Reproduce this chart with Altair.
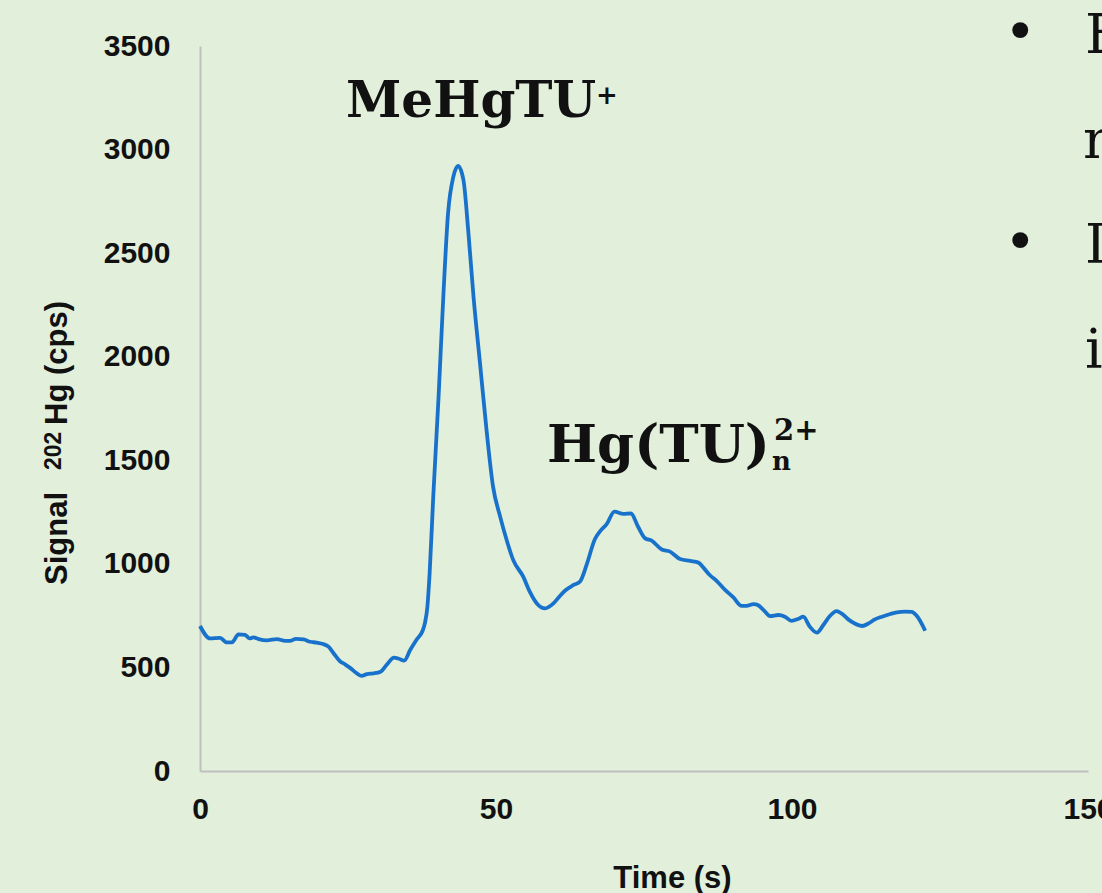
import altair as alt
import pandas as pd

# ---- data ----
time_s = [0.0, 1.7, 3.4, 4.5, 5.4, 6.5, 7.6, 8.4, 9.0, 9.9, 11.3, 13.0, 14.4, 15.2, 16.2,
          17.5, 18.6, 19.7, 20.8, 21.7, 22.5, 23.6, 24.5, 25.3, 26.5, 27.3, 28.2, 29.3,
          30.5, 31.5, 32.8, 33.5, 34.5, 35.5, 36.6, 37.6, 38.0, 38.4, 38.8, 39.4,
          40.3, 41.1, 41.9, 42.8, 43.6, 44.5, 45.3, 46.2, 47.3, 48.4, 49.5, 50.7, 51.8,
          52.9, 54.6, 55.7, 56.9, 58.3, 59.7, 60.8, 61.9, 63.1, 64.2, 65.3, 66.7, 67.6,
          68.7, 70.0, 71.5, 72.8, 74.0, 75.2, 76.3, 78.0, 79.4, 81.1, 82.8, 84.2, 85.0,
          86.1, 87.3, 88.7, 90.1, 91.5, 92.3, 93.5, 94.3, 95.2, 96.3, 97.7, 98.8, 99.9,
          101.1, 101.9, 103.0, 104.2, 105.3, 106.4, 107.5, 108.4, 109.5, 110.6, 111.9,
          112.9, 114.0, 115.2, 116.6, 117.7, 119.1, 120.2, 121.1, 122.5]
signal_cps = [700, 640, 643, 621, 621, 660, 657, 640, 645, 637, 631, 637, 628, 628, 638,
              635, 624, 620, 613, 600, 571, 531, 515, 499, 471, 459, 468, 471,
              479, 512, 547, 543, 533, 584, 635, 677, 715, 790, 960, 1324,
              1807, 2290, 2692, 2869, 2921, 2853, 2612, 2290, 1968, 1646, 1373, 1228, 1115,
              1019, 938, 866, 809, 785, 809, 845, 876, 898, 915, 995, 1119, 1158,
              1192, 1252, 1241, 1243, 1179, 1123, 1112, 1069, 1059, 1023, 1014, 1006, 983,
              946, 917, 874, 838, 797, 797, 806, 800, 777, 748, 753, 745, 725,
              735, 745, 697, 668, 705, 748, 772, 760, 732, 712, 700,
              712, 732, 745, 758, 766, 769, 768, 748, 677]
x_ticks = [0, 50, 100, 150]
y_ticks = [0, 500, 1000, 1500, 2000, 2500, 3000, 3500]

BG = "#e2efda"
LINE = "#1872cc"
AXIS = "#bfbfbf"
INK = "#111111"
SANS = "Liberation Sans"
SERIF = "DejaVu Serif"

# plot area in page pixels: x 200..1088, y 46..771
PL, PT = 200, 46
W, H = 888, 725

df = pd.DataFrame({"t": time_s, "s": signal_cps})

line = alt.Chart(df).mark_line(
    color=LINE, strokeWidth=3.8, interpolate="monotone"
).encode(
    x=alt.X("t:Q",
            scale=alt.Scale(domain=[0, 150], nice=False, zero=False),
            axis=alt.Axis(values=x_ticks, format="d", title="Time (s)", ticks=False,
                          grid=False, domainColor=AXIS, domainWidth=2,
                          labelFont=SANS, labelFontSize=30, labelFontWeight="bold",
                          labelColor=INK, labelPadding=23, labelOverlap=False,
                          labelFlush=False,
                          titleFont=SANS, titleFontSize=31, titleFontWeight="bold",
                          titleColor=INK, titleX=472, titleY=116,
                          titleAlign="center", titleBaseline="alphabetic")),
    y=alt.Y("s:Q",
            scale=alt.Scale(domain=[0, 3500], nice=False),
            axis=alt.Axis(values=y_ticks, format="d", title=None, ticks=False,
                          grid=False, domainColor=AXIS, domainWidth=2,
                          labelFont=SANS, labelFontSize=30, labelFontWeight="bold",
                          labelColor=INK, labelPadding=30, labelOverlap=False,
                          labelFlush=False)),
)


def txt(label, px, py, size, font, weight="normal", angle=0, align="left"):
    kw = dict(font=font, fontSize=size, fontWeight=weight, color=INK,
              align=align, baseline="alphabetic")
    if angle:
        kw["angle"] = angle
    return alt.Chart(pd.DataFrame({"label": [label]})).mark_text(**kw).encode(
        text="label:N", x=alt.value(px - PL), y=alt.value(py - PT))


layers = [
    line,
    # y axis title with superscript
    txt("Signal", 67, 585, 31, SANS, "bold", 270),
    txt("202", 61, 470, 23, SANS, "bold", 270),
    txt("Hg (cps)", 67, 425, 31, SANS, "bold", 270),
    # peak annotations
    txt("MeHgTU", 346, 117, 50, SERIF, "bold"),
    txt("+", 596, 104, 26, SERIF, "bold"),
    txt("Hg(TU)", 547, 462, 53, SERIF, "bold"),
    txt("n", 772, 470, 26, SERIF, "bold"),
    txt("2+", 774, 440, 29, SERIF, "bold"),
    # slide text cut off on the right
    txt("\u2022", 1004, 50, 55, SERIF),
    txt("E", 1085, 53, 55, SERIF),
    txt("n", 1083, 158, 55, SERIF),
    txt("\u2022", 1004, 260, 55, SERIF),
    txt("D", 1085, 263, 55, SERIF),
    txt("in", 1085, 368, 55, SERIF),
]

chart = alt.layer(*layers).properties(
    width=W, height=H,
    padding={"left": PL, "top": PT, "right": 1102 - PL - W, "bottom": 893 - PT - H},
    autosize=alt.AutoSizeParams(type="none"),
    background=BG,
).configure_view(stroke=None)

chart.save("out.html", embed_options={"renderer": "svg", "actions": False})
